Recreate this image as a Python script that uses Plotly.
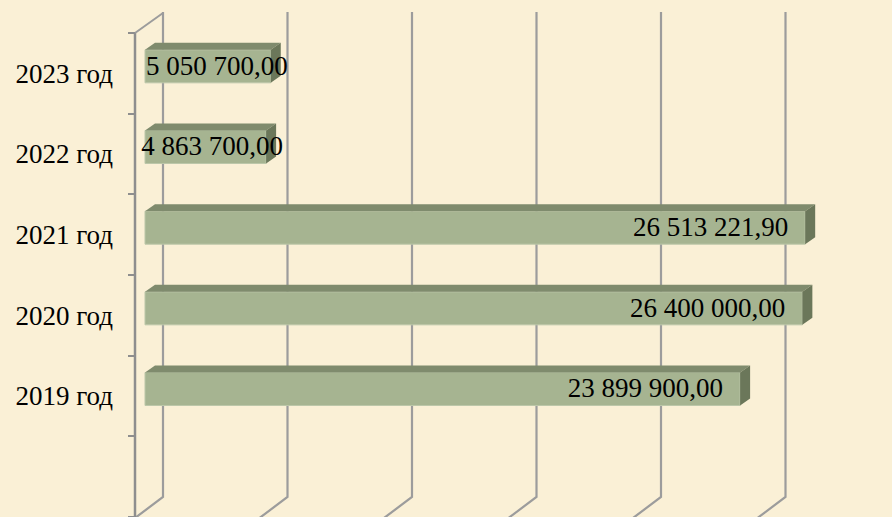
import plotly.graph_objects as go

# ---- data ----
years = ["2019 год", "2020 год", "2021 год", "2022 год", "2023 год"]
values = [23899900.00, 26400000.00, 26513221.90, 4863700.00, 5050700.00]
x_max = 30000000
grid_step = 5000000

W, H = 892, 517
L = 120
PX_PER_UNIT = 24.9 / 1e6     # px per value unit on bar plane
X0 = 145                     # px of value 0 on bar plane
SLOT = 80.67                 # px per category slot


def xd(px):
    return (px - X0) / PX_PER_UNIT


def yp(px):
    return (H - px) / H


labels = [f"{v:,.2f}".replace(",", " ").replace(".", ",") for v in values]
pos = list(range(1, len(years) + 1))

bg = "#FAF0D6"
front = "#A6B491"
top_c = "#7F8B6D"
side_c = "#6B775A"
grid_c = "#9C9C9C"

fig = go.Figure()

# bars (front face)
bw = 33 / SLOT
fig.add_trace(go.Bar(
    y=pos, x=values, base=0, orientation="h", width=bw,
    marker=dict(color=front, line=dict(color="#BCC7A9", width=1)),
    hoverinfo="skip", showlegend=False))

# 3D faces
dx = xd(X0 + 10)
dy = 7 / SLOT
tx, ty, sx, sy = [], [], [], []
for p, v in zip(pos, values):
    yt = p + bw / 2
    yb = p - bw / 2
    tx += [0, v, v + dx, dx, 0, None]
    ty += [yt, yt, yt + dy, yt + dy, yt, None]
    sx += [v, v + dx, v + dx, v, v, None]
    sy += [yb, yb + dy, yt + dy, yt, yb, None]
fig.add_trace(go.Scatter(x=tx, y=ty, fill="toself", fillcolor=top_c, mode="lines",
                         line=dict(width=0, color=top_c), hoverinfo="skip", showlegend=False))
fig.add_trace(go.Scatter(x=sx, y=sy, fill="toself", fillcolor=side_c, mode="lines",
                         line=dict(width=0, color=side_c), hoverinfo="skip", showlegend=False))

# data labels
lx, tp = [], []
for v in values:
    if v < 10000000:
        lx.append(v + xd(X0 + 17))
    else:
        lx.append(v - xd(X0 + 17))
    tp.append("middle left")
fig.add_trace(go.Scatter(
    x=lx, y=[p - 0.02 for p in pos], mode="text", text=labels, textposition=tp,
    textfont=dict(family="Liberation Serif", size=27, color="#000000"),
    hoverinfo="skip", showlegend=False))

# invisible trace for label axis
fig.add_trace(go.Scatter(x=[0] * len(pos), y=pos, yaxis="y2", mode="markers",
                         marker=dict(opacity=0), hoverinfo="skip", showlegend=False))

# grid (back wall + floor slant)
shapes = []
off = xd(X0 + 18)
k = 0
while k * grid_step <= x_max - grid_step:
    xb = k * grid_step + off
    path = (f"M {xb},{yp(12)} L {xb},{yp(497)} L {xb - xd(X0 + 28)},{yp(518)}")
    shapes.append(dict(type="path", path=path, xref="x", yref="paper",
                       line=dict(color=grid_c, width=2.2), layer="below"))
    k += 1
# left wall front edge and top slant
shapes.append(dict(type="line", xref="x", yref="paper", x0=xd(135), x1=xd(135),
                   y0=yp(33), y1=yp(517), line=dict(color="#8E8E8E", width=2.5), layer="below"))
shapes.append(dict(type="line", xref="x", yref="paper", x0=xd(135), x1=xd(163),
                   y0=yp(33), y1=yp(13), line=dict(color=grid_c, width=2), layer="below"))

r0 = 1 - (1.5 * SLOT + 7) / SLOT
r1 = r0 + H / SLOT

fig.update_layout(
    width=W, height=H,
    margin=dict(l=L, r=0, t=0, b=0),
    paper_bgcolor=bg, plot_bgcolor=bg,
    shapes=shapes,
    xaxis=dict(range=[xd(L), xd(W)], showgrid=False, zeroline=False,
               showticklabels=False, showline=False, fixedrange=True),
    yaxis=dict(range=[r0, r1], showgrid=False, zeroline=False,
               showticklabels=False, showline=False),
    yaxis2=dict(overlaying="y", anchor="free", position=(135 - L) / (W - L),
                range=[-0.5, -0.5 + H / SLOT],
                tickvals=pos, ticktext=years, ticks="",
                minor=dict(tickvals=[i - 0.5 for i in range(len(years) + 2)],
                           ticks="outside", ticklen=7, tickcolor="#8E8E8E", tickwidth=2),
                showgrid=False, zeroline=False, showline=False,
                ticklabelstandoff=22,
                tickfont=dict(family="Liberation Serif", size=27, color="#000000")),
    showlegend=False,
)

fig.write_html("out.html",
               config={"displayModeBar": False},
               post_script="document.body.style.margin='0';"
                           "document.body.style.background='#FAF0D6';")
